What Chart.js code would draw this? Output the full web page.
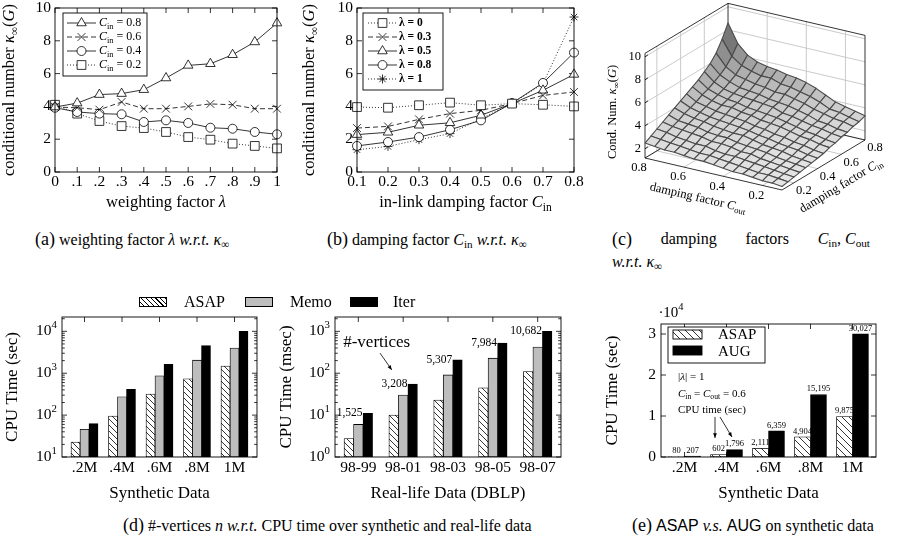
<!DOCTYPE html>
<html><head><meta charset="utf-8">
<script src="https://cdn.jsdelivr.net/npm/chart.js@4.4.1/dist/chart.umd.min.js"></script>
<style>
html,body{margin:0;padding:0;background:#fff;}
body{width:898px;height:544px;position:relative;overflow:hidden;font-family:'Liberation Serif','Times New Roman',Times,serif;}
canvas{position:absolute;}
.cap{position:absolute;font-family:'Liberation Serif','Times New Roman',Times,serif;font-size:16px;line-height:20px;white-space:nowrap;color:#000;}
.cap .lb{font-size:18px;}
.cap sub{font-size:70%;line-height:0;vertical-align:-0.3em;}
.sans{font-family:'Liberation Sans',Arial,sans-serif;}
.lg{position:absolute;font-family:'Liberation Serif','Times New Roman',Times,serif;font-size:16px;line-height:20px;white-space:nowrap;}
.sw{position:absolute;box-sizing:border-box;border:1px solid #000;}
</style></head><body>
<canvas id="ca" width="300" height="215" style="left:0;top:0"></canvas>
<canvas id="cb" width="300" height="215" style="left:300px;top:0"></canvas>
<canvas id="cc" width="298" height="225" style="left:600px;top:0"></canvas>
<canvas id="cd1" width="260" height="225" style="left:0;top:280px"></canvas>
<canvas id="cd2" width="310" height="225" style="left:260px;top:280px"></canvas>
<canvas id="ce" width="298" height="225" style="left:600px;top:280px"></canvas>

<div class="sw" style="left:139px;top:297px;width:28px;height:10px;background:repeating-linear-gradient(45deg,#fff 0 2.6px,#000 2.6px 3.4px)"></div>
<div class="lg" style="left:184px;top:292px">ASAP</div>
<div class="sw" style="left:245px;top:297px;width:28px;height:10px;background:#bdbdbd"></div>
<div class="lg" style="left:290px;top:292px">Memo</div>
<div class="sw" style="left:350px;top:297px;width:28px;height:10px;background:#000"></div>
<div class="lg" style="left:393px;top:292px">Iter</div>

<div class="cap" style="left:35px;top:229px"><span class="lb">(a)</span> weighting factor <i>λ</i> <i>w.r.t.</i> <i>κ</i><sub>∞</sub></div>
<div class="cap" style="left:327px;top:229px"><span class="lb">(b)</span> damping factor <i>C</i><sub>in</sub> <i>w.r.t.</i> <i>κ</i><sub>∞</sub></div>
<div class="cap" style="left:612px;top:229px;width:258px;display:flex;justify-content:space-between"><span class="lb">(c)</span><span>damping</span><span>factors</span><span><i>C</i><sub>in</sub>, <i>C</i><sub>out</sub></span></div>
<div class="cap" style="left:612px;top:252px"><i>w.r.t.</i> <i>κ</i><sub>∞</sub></div>
<div class="cap" style="left:123px;top:515px"><span class="lb">(d)</span> #-vertices <i>n</i> <i>w.r.t.</i> CPU time over synthetic and real-life data</div>
<div class="cap" style="left:632px;top:515px"><span class="lb">(e)</span> <span class="sans">ASAP</span> <i>v.s.</i> <span class="sans">AUG</span> on synthetic data</div>

<script>
// ================= DATA =================
// (a) kappa vs weighting factor lambda
const lambdaValues = [0, 0.1, 0.2, 0.3, 0.4, 0.5, 0.6, 0.7, 0.8, 0.9, 1];
const lambdaTickLabels = ['0', '.1', '.2', '.3', '.4', '.5', '.6', '.7', '.8', '.9', '1'];
const kappaTicks = [0, 2, 4, 6, 8, 10];
const kappaTickLabels = ['0', '2', '4', '6', '8', '10'];
const kappaA_Cin08 = [3.96, 4.2, 4.72, 4.78, 5.02, 5.73, 6.5, 6.6, 7.15, 7.93, 9.08];
const kappaA_Cin06 = [3.96, 3.92, 3.8, 4.27, 3.86, 3.86, 4.0, 4.15, 4.1, 3.86, 3.86];
const kappaA_Cin04 = [3.92, 3.66, 3.56, 3.52, 3.05, 3.15, 2.99, 2.7, 2.64, 2.44, 2.3];
const kappaA_Cin02 = [4.1, 3.56, 3.11, 2.8, 2.68, 2.44, 2.13, 1.97, 1.73, 1.59, 1.44];
// (b) kappa vs in-link damping factor Cin
const cinValues = [0.1, 0.2, 0.3, 0.4, 0.5, 0.6, 0.7, 0.8];
const cinTickLabels = ['0.1', '0.2', '0.3', '0.4', '0.5', '0.6', '0.7', '0.8'];
const kappaB_L0 = [3.96, 3.92, 4.07, 4.23, 4.07, 4.17, 4.1, 4.0];
const kappaB_L03 = [2.68, 2.78, 3.21, 3.56, 3.76, 4.17, 4.67, 4.88];
const kappaB_L05 = [2.28, 2.42, 2.85, 3.0, 3.46, 4.17, 4.98, 5.95];
const kappaB_L08 = [1.59, 1.83, 2.13, 2.58, 3.15, 4.2, 5.43, 7.28];
const kappaB_L1 = [1.36, 1.56, 1.97, 2.34, 3.25, 4.17, 5.39, 9.45];
// (c) surface kappa(Cout, Cin); rows = Cin, columns = Cout
const surfCout = [0.10, 0.15, 0.20, 0.25, 0.30, 0.35, 0.40, 0.45, 0.50, 0.55, 0.60, 0.65, 0.70, 0.75, 0.80];
const surfCin = [0.10, 0.15, 0.20, 0.25, 0.30, 0.35, 0.40, 0.45, 0.50, 0.55, 0.60, 0.65, 0.70, 0.75, 0.80];
const surfKappa = [
  [1.5, 1.6, 1.6, 1.7, 1.8, 1.8, 1.9, 2.0, 2.1, 2.1, 2.2, 2.3, 2.3, 2.4, 2.5],
  [1.6, 1.7, 1.8, 1.8, 1.9, 2.0, 2.1, 2.2, 2.3, 2.3, 2.4, 2.5, 2.6, 2.7, 2.8],
  [1.7, 1.8, 1.9, 2.0, 2.1, 2.2, 2.3, 2.3, 2.4, 2.6, 2.6, 2.7, 2.8, 3.0, 3.1],
  [1.8, 1.9, 2.0, 2.1, 2.2, 2.4, 2.4, 2.6, 2.7, 2.7, 2.9, 3.0, 3.1, 3.2, 3.4],
  [1.9, 2.0, 2.1, 2.2, 2.4, 2.5, 2.6, 2.7, 2.9, 2.9, 3.0, 3.2, 3.3, 3.4, 3.7],
  [2.0, 2.1, 2.2, 2.4, 2.5, 2.6, 2.8, 3.0, 3.0, 3.1, 3.2, 3.4, 3.5, 3.7, 4.0],
  [2.1, 2.2, 2.4, 2.5, 2.6, 2.8, 2.9, 3.1, 3.2, 3.3, 3.4, 3.5, 3.7, 3.9, 4.3],
  [2.2, 2.3, 2.5, 2.6, 2.8, 2.9, 3.1, 3.2, 3.4, 3.5, 3.6, 3.7, 3.9, 4.1, 4.6],
  [2.4, 2.5, 2.7, 2.8, 3.0, 3.2, 3.3, 3.4, 3.6, 3.7, 3.9, 3.9, 4.1, 4.4, 4.9],
  [2.5, 2.6, 2.8, 2.9, 3.1, 3.3, 3.5, 3.6, 3.7, 3.8, 4.0, 4.1, 4.3, 4.6, 5.2],
  [2.7, 2.8, 3.0, 3.1, 3.3, 3.5, 3.6, 3.9, 4.0, 4.1, 4.2, 4.3, 4.5, 4.9, 5.6],
  [2.8, 2.9, 3.1, 3.2, 3.5, 3.7, 3.9, 4.0, 4.1, 4.3, 4.4, 4.5, 4.8, 5.2, 6.0],
  [3.0, 3.2, 3.3, 3.5, 3.7, 4.0, 4.2, 4.4, 4.4, 4.6, 4.7, 4.9, 5.1, 5.6, 6.6],
  [3.1, 3.3, 3.5, 3.6, 4.0, 4.3, 4.5, 4.7, 4.8, 5.1, 5.1, 5.3, 5.6, 6.2, 7.5],
  [3.3, 3.5, 3.7, 3.9, 4.3, 4.7, 5.0, 5.2, 5.3, 5.5, 5.6, 5.8, 6.2, 7.0, 8.6]
];
const surfZTicks = [2, 4, 6, 8, 10];
const surfAxisTicks = [0.2, 0.4, 0.6, 0.8];
const surfAxisTickLabels = ['0.2', '0.4', '0.6', '0.8'];
// (d) CPU time, synthetic (sec) and DBLP (msec)
const synthCats = ['.2M', '.4M', '.6M', '.8M', '1M'];
const synthASAP = [22.7, 95, 318, 740, 1480];
const synthMemo = [46, 275, 870, 2050, 3970];
const synthIter = [63, 415, 1640, 4570, 10000];
const synthLogTicks = [10, 100, 1000, 10000];
const synthLogLabels = ['10~^:1', '10~^:2', '10~^:3', '10~^:4'];
const dblpCats = ['98-99', '98-01', '98-03', '98-05', '98-07'];
const dblpASAP = [2.75, 10, 23, 45, 110];
const dblpMemo = [6.0, 30, 91, 229, 420];
const dblpIter = [11, 55, 209, 525, 1000];
const dblpVertices = [1525, 3208, 5307, 7984, 10682];
const dblpLogTicks = [1, 10, 100, 1000];
const dblpLogLabels = ['10~^:0', '10~^:1', '10~^:2', '10~^:3'];
// (e) ASAP vs AUG (sec)
const augCats = ['.2M', '.4M', '.6M', '.8M', '1M'];
const augASAP = [80, 602, 2111, 4904, 9875];
const augAUG = [207, 1796, 6359, 15195, 30027];
const augTicks = [0, 10000, 20000, 30000];
const augTickLabels = ['0', '1', '2', '3'];

// ================= HELPERS =================
const SERIF = "'Liberation Serif','Times New Roman',Times,serif";
function rich(str, size) {
  return str.split('~').map(seg => {
    let t = seg, style = '', sz = size, dy = 0;
    while (t.length > 1 && t[1] === ':' && 'ib_^'.includes(t[0])) {
      const c = t[0]; t = t.slice(2);
      if (c === 'i') style = 'italic ';
      else if (c === 'b') style = 'bold ';
      else if (c === '_') { sz = size * 0.7; dy = size * 0.3; }
      else { sz = size * 0.7; dy = -size * 0.38; }
    }
    return { t, font: style + sz.toFixed(2) + 'px ' + SERIF, dy };
  });
}
function drawRich(ctx, str, size, x, y, align, rot) {
  const parts = rich(str, size);
  let w = 0;
  parts.forEach(p => { ctx.font = p.font; p.w = ctx.measureText(p.t).width; w += p.w; });
  ctx.save(); ctx.translate(x, y); if (rot) ctx.rotate(rot);
  let cx = align === 'center' ? -w / 2 : (align === 'right' ? -w : 0);
  ctx.textBaseline = 'middle'; ctx.textAlign = 'left'; ctx.fillStyle = '#000';
  parts.forEach(p => { ctx.font = p.font; ctx.fillText(p.t, cx, p.dy); cx += p.w; });
  ctx.restore();
}
function marker(ctx, style, r, x, y) {
  ctx.beginPath();
  const s = r * Math.SQRT1_2;
  if (style === 'circle') ctx.arc(x, y, r, 0, Math.PI * 2);
  else if (style === 'triangle') { ctx.moveTo(x, y - r); ctx.lineTo(x + 0.866 * r, y + 0.5 * r); ctx.lineTo(x - 0.866 * r, y + 0.5 * r); ctx.closePath(); }
  else if (style === 'rect') ctx.rect(x - s, y - s, 2 * s, 2 * s);
  else if (style === 'crossRot') { ctx.moveTo(x - s, y - s); ctx.lineTo(x + s, y + s); ctx.moveTo(x - s, y + s); ctx.lineTo(x + s, y - s); }
  else if (style === 'star') { ctx.moveTo(x, y - r); ctx.lineTo(x, y + r); ctx.moveTo(x - r, y); ctx.lineTo(x + r, y); ctx.moveTo(x - s, y - s); ctx.lineTo(x + s, y + s); ctx.moveTo(x - s, y + s); ctx.lineTo(x + s, y - s); }
  if (style === 'circle' || style === 'triangle' || style === 'rect') { ctx.fillStyle = '#fff'; ctx.fill(); }
  ctx.stroke();
}
function arrow(ctx, x1, y1, x2, y2) {
  ctx.beginPath(); ctx.moveTo(x1, y1); ctx.lineTo(x2, y2); ctx.stroke();
  const a = Math.atan2(y2 - y1, x2 - x1), h = 5;
  ctx.beginPath(); ctx.moveTo(x2, y2);
  ctx.lineTo(x2 - h * Math.cos(a - 0.38), y2 - h * Math.sin(a - 0.38));
  ctx.lineTo(x2 - h * Math.cos(a + 0.38), y2 - h * Math.sin(a + 0.38));
  ctx.closePath(); ctx.fillStyle = '#000'; ctx.fill();
}
function hatchFor(id, size) {
  const c = document.createElement('canvas'); c.width = size; c.height = size;
  const g = c.getContext('2d');
  g.fillStyle = '#fff'; g.fillRect(0, 0, size, size);
  g.strokeStyle = '#000'; g.lineWidth = 0.8; g.beginPath();
  g.moveTo(-1, -1); g.lineTo(size + 1, size + 1);
  g.moveTo(-1, size - 1); g.lineTo(1, size + 1);
  g.moveTo(size - 1, -1); g.lineTo(size + 1, 1);
  g.stroke();
  return document.getElementById(id).getContext('2d').createPattern(c, 'repeat');
}

// per-canvas axis decoration settings
const PGF = {};
const pgfPlugin = {
  id: 'pgf',
  beforeDatasetsDraw(chart) {
    const o = PGF[chart.canvas.id]; if (!o) return;
    const ctx = chart.ctx, a = chart.chartArea, sx = chart.scales.x, sy = chart.scales.y;
    const L = 5, m = 2.8;
    ctx.save(); ctx.strokeStyle = '#000'; ctx.lineWidth = 0.8; ctx.beginPath();
    o.xTicks.forEach(v => { const p = sx.getPixelForValue(v); ctx.moveTo(p, a.bottom); ctx.lineTo(p, a.bottom - L); ctx.moveTo(p, a.top); ctx.lineTo(p, a.top + L); });
    o.yTicks.forEach(v => { const p = sy.getPixelForValue(v); ctx.moveTo(a.left, p); ctx.lineTo(a.left + L, p); ctx.moveTo(a.right, p); ctx.lineTo(a.right - L, p); });
    if (o.logMinor) {
      o.yTicks.forEach(v => { for (let k = 2; k <= 9; k++) { const val = v * k; if (val > sy.max) continue; const p = sy.getPixelForValue(val); ctx.moveTo(a.left, p); ctx.lineTo(a.left + m, p); ctx.moveTo(a.right, p); ctx.lineTo(a.right - m, p); } });
    }
    ctx.stroke(); ctx.restore();
  },
  afterDatasetsDraw(chart) {
    const o = PGF[chart.canvas.id]; if (!o) return;
    const ctx = chart.ctx, a = chart.chartArea, sx = chart.scales.x, sy = chart.scales.y;
    ctx.save();
    ctx.strokeStyle = '#000'; ctx.lineWidth = 0.9;
    ctx.strokeRect(a.left, a.top, a.right - a.left, a.bottom - a.top);
    o.xLabels.forEach((t, i) => drawRich(ctx, t, o.fs, sx.getPixelForValue(o.xTicks[i]), a.bottom + o.xdy, 'center'));
    o.yLabels.forEach((t, i) => drawRich(ctx, t, o.fs, a.left - o.ydx, sy.getPixelForValue(o.yTicks[i]), 'right'));
    drawRich(ctx, o.xTitle, o.tfs, (a.left + a.right) / 2, a.bottom + o.xTitleDy, 'center');
    drawRich(ctx, o.yTitle, o.tfs, a.left - o.yTitleDx, (a.top + a.bottom) / 2, 'center', -Math.PI / 2);
    if (o.legend) {
      const g = o.legend;
      ctx.fillStyle = '#fff'; ctx.fillRect(g.box[0], g.box[1], g.box[2], g.box[3]);
      ctx.lineWidth = 0.9; ctx.strokeRect(g.box[0], g.box[1], g.box[2], g.box[3]);
      g.rows.forEach(r => {
        const ds = chart.data.datasets[r[0]];
        ctx.lineWidth = ds.borderWidth; ctx.strokeStyle = '#000';
        ctx.setLineDash(ds.borderDash || []);
        ctx.beginPath(); ctx.moveTo(g.x0, r[2]); ctx.lineTo(g.x1, r[2]); ctx.stroke();
        ctx.setLineDash([]);
        marker(ctx, ds.pointStyle, ds.pointRadius, (g.x0 + g.x1) / 2, r[2]);
        drawRich(ctx, r[1], g.fs, g.tx, r[2], 'left');
      });
    }
    if (o.extra) o.extra(chart, ctx, a);
    ctx.restore();
  }
};

const charts = [];
function lineDS(label, xs, ys, style, dash, r) {
  return { label, data: xs.map((x, i) => ({ x, y: ys[i] })), borderColor: '#000', borderWidth: 0.8, borderDash: dash,
    pointStyle: style, pointRadius: r, pointBorderWidth: 0.8, pointBackgroundColor: '#fff', pointBorderColor: '#000',
    pointHoverRadius: r, fill: false, tension: 0, clip: false };
}
function mkLine(id, datasets, xmin, xmax, pad) {
  charts.push(new Chart(document.getElementById(id), {
    type: 'line', data: { datasets },
    options: { responsive: false, animation: false, events: [], layout: { padding: pad },
      plugins: { legend: { display: false }, tooltip: { enabled: false } },
      scales: { x: { type: 'linear', min: xmin, max: xmax, display: false }, y: { type: 'linear', min: 0, max: 10, display: false } } },
    plugins: [pgfPlugin]
  }));
}
function barDS(label, ys, bg, thick) {
  return { label, data: ys.map((y, i) => ({ x: i, y })), backgroundColor: bg, borderColor: '#000', borderWidth: 0.8,
    borderSkipped: false, barThickness: thick, grouped: true };
}
function mkBar(id, datasets, yType, ymin, ymax, xmin, xmax, pad) {
  charts.push(new Chart(document.getElementById(id), {
    type: 'bar', data: { datasets },
    options: { responsive: false, animation: false, events: [], layout: { padding: pad },
      plugins: { legend: { display: false }, tooltip: { enabled: false } },
      scales: { x: { type: 'linear', min: xmin, max: xmax, offset: false, display: false },
                y: { type: yType, min: ymin, max: ymax, display: false } } },
    plugins: [pgfPlugin]
  }));
}

// ================= (a) =================
PGF.ca = {
  xTicks: lambdaValues, xLabels: lambdaTickLabels, yTicks: kappaTicks, yLabels: kappaTickLabels,
  fs: 15.5, xdy: 10, ydx: 4, tfs: 16.5,
  xTitle: 'weighting factor ~i:λ', xTitleDy: 31,
  yTitle: 'conditional number ~i:κ~_:∞~(~i:G~)', yTitleDx: 45,
  legend: { box: [63, 13, 84, 63], x0: 67, x1: 96, tx: 99, fs: 12,
    rows: [[0, 'i:C~_:in~ = 0.8', 23], [1, 'i:C~_:in~ = 0.6', 37], [2, 'i:C~_:in~ = 0.4', 51], [3, 'i:C~_:in~ = 0.2', 65]] }
};
mkLine('ca', [
  lineDS('Cin=0.8', lambdaValues, kappaA_Cin08, 'triangle', [], 5.5),
  lineDS('Cin=0.6', lambdaValues, kappaA_Cin06, 'crossRot', [5, 3], 5.5),
  lineDS('Cin=0.4', lambdaValues, kappaA_Cin04, 'circle', [], 4.5),
  lineDS('Cin=0.2', lambdaValues, kappaA_Cin02, 'rect', [1, 2], 6.2)
], 0, 1, { left: 55, top: 8, right: 23, bottom: 43 });

// ================= (b) =================
PGF.cb = {
  xTicks: cinValues, xLabels: cinTickLabels, yTicks: kappaTicks, yLabels: kappaTickLabels,
  fs: 15.5, xdy: 10, ydx: 4, tfs: 16.5,
  xTitle: 'in-link damping factor ~i:C~_:in', xTitleDy: 31,
  yTitle: 'conditional number ~i:κ~_:∞~(~i:G~)', yTitleDx: 47,
  legend: { box: [63, 13, 80, 77], x0: 68, x1: 97, tx: 99, fs: 11.5,
    rows: [[0, 'b:λ = 0', 23], [1, 'b:λ = 0.3', 37], [2, 'b:λ = 0.5', 51], [3, 'b:λ = 0.8', 65], [4, 'b:λ = 1', 79]] }
};
mkLine('cb', [
  lineDS('lambda=0', cinValues, kappaB_L0, 'rect', [1, 2], 6.2),
  lineDS('lambda=0.3', cinValues, kappaB_L03, 'crossRot', [5, 3], 5.5),
  lineDS('lambda=0.5', cinValues, kappaB_L05, 'triangle', [], 5.5),
  lineDS('lambda=0.8', cinValues, kappaB_L08, 'circle', [], 4.5),
  lineDS('lambda=1', cinValues, kappaB_L1, 'star', [1, 2], 4.5)
], 0.1, 0.8, { left: 57, top: 8, right: 26, bottom: 43 });

// ================= (c) 3D surface =================
const PROJ = { ox: 45, oy: 158, cx: 195.7, cy: 45.7, ix: 118.6, iy: 71.4, zs: 11.5, zmin: 1.2, zmax: 10.3 };
function proj(cout, cin, z) {
  return [PROJ.ox + (0.8 - cout) * PROJ.cx + (cin - 0.1) * PROJ.ix,
          PROJ.oy + (0.8 - cout) * PROJ.cy - (cin - 0.1) * PROJ.iy - (z - PROJ.zmin) * PROJ.zs];
}
const allZ = surfKappa.flat();
const zLo = Math.min(...allZ), zHi = Math.max(...allZ);
function gray(z) {
  const t = Math.max(0, Math.min(1, (z - zLo) / (zHi - zLo)));
  const g = Math.round(228 - 150 * Math.pow(t, 1.6));
  return 'rgb(' + g + ',' + g + ',' + g + ')';
}
const surfPoints = [];
surfCin.forEach((ci, i) => surfCout.forEach((co, j) => { const q = proj(co, ci, surfKappa[i][j]); surfPoints.push({ x: q[0], y: q[1] }); }));

const surfPlugin = {
  id: 'surf3d',
  afterDatasetsDraw(chart) {
    const ctx = chart.ctx, sx = chart.scales.x, sy = chart.scales.y;
    const P = (co, ci, z) => { const q = proj(co, ci, z); return [sx.getPixelForValue(q[0]), sy.getPixelForValue(q[1])]; };
    const seg = (p, q) => { ctx.moveTo(p[0], p[1]); ctx.lineTo(q[0], q[1]); };
    const Z0 = PROJ.zmin, Z1 = PROJ.zmax;
    ctx.save();
    ctx.globalAlpha = 1;
    ctx.setLineDash([]);
    ctx.lineCap = 'butt';
    // back walls & floor grid
    ctx.strokeStyle = '#c4c4c4'; ctx.lineWidth = 0.9; ctx.beginPath();
    surfZTicks.forEach(z => { seg(P(0.8, 0.1, z), P(0.8, 0.8, z)); seg(P(0.8, 0.8, z), P(0.1, 0.8, z)); });
    surfAxisTicks.forEach(c => {
      if (c < 0.8) { seg(P(0.8, c, Z0), P(0.8, c, Z1)); seg(P(c, 0.8, Z0), P(c, 0.8, Z1)); }
      seg(P(c, 0.1, Z0), P(c, 0.8, Z0)); seg(P(0.1, c, Z0), P(0.8, c, Z0));
    });
    ctx.stroke();
    // back box edges
    ctx.strokeStyle = '#000'; ctx.lineWidth = 0.8; ctx.beginPath();
    seg(P(0.8, 0.1, Z0), P(0.8, 0.1, Z1)); seg(P(0.8, 0.1, Z1), P(0.8, 0.8, Z1));
    seg(P(0.8, 0.8, Z1), P(0.1, 0.8, Z1)); seg(P(0.1, 0.8, Z1), P(0.1, 0.8, Z0));
    seg(P(0.8, 0.8, Z0), P(0.8, 0.8, Z1)); seg(P(0.8, 0.1, Z0), P(0.8, 0.8, Z0)); seg(P(0.8, 0.8, Z0), P(0.1, 0.8, Z0));
    ctx.stroke();
    // surface facets, back to front (vertices from the dataset elements)
    const pts = chart.getDatasetMeta(0).data, n = surfCout.length, quads = [];
    for (let i = 0; i < n - 1; i++) for (let j = 0; j < n - 1; j++) {
      const zc = (surfKappa[i][j] + surfKappa[i][j + 1] + surfKappa[i + 1][j + 1] + surfKappa[i + 1][j]) / 4;
      const d = proj((surfCout[j] + surfCout[j + 1]) / 2, (surfCin[i] + surfCin[i + 1]) / 2, Z0)[1];
      quads.push({ k: [i * n + j, i * n + j + 1, (i + 1) * n + j + 1, (i + 1) * n + j], zc, d });
    }
    quads.sort((p, q) => p.d - q.d);
    ctx.lineJoin = 'round';
    quads.forEach(q => {
      const v = q.k.map(idx => { const e = pts[idx]; return [e.x, e.y]; });
      ctx.beginPath();
      ctx.moveTo(v[0][0], v[0][1]); ctx.lineTo(v[1][0], v[1][1]); ctx.lineTo(v[2][0], v[2][1]); ctx.lineTo(v[3][0], v[3][1]);
      ctx.closePath();
      ctx.fillStyle = gray(q.zc); ctx.fill();
      ctx.beginPath();
      ctx.moveTo(v[0][0], v[0][1]); ctx.lineTo(v[1][0], v[1][1]); ctx.lineTo(v[2][0], v[2][1]); ctx.lineTo(v[3][0], v[3][1]);
      ctx.closePath();
      ctx.strokeStyle = '#4a4a4a'; ctx.lineWidth = 1.1; ctx.stroke();
    });
    // front axes
    ctx.strokeStyle = '#000'; ctx.lineWidth = 0.8; ctx.beginPath();
    seg(P(0.8, 0.1, Z0), P(0.1, 0.1, Z0)); seg(P(0.1, 0.1, Z0), P(0.1, 0.8, Z0));
    surfZTicks.forEach(z => { const p = P(0.8, 0.1, z); ctx.moveTo(p[0], p[1]); ctx.lineTo(p[0] + 3, p[1] - 2); });
    ctx.stroke();
    // tick labels
    surfZTicks.forEach(z => { const p = P(0.8, 0.1, z); drawRich(ctx, String(z), 12.5, p[0] - 4, p[1], 'right'); });
    surfAxisTicks.forEach((c, i) => {
      const p = P(c, 0.1, Z0); drawRich(ctx, surfAxisTickLabels[i], 12.5, p[0] - 6, p[1] + 10, 'center');
      const q = P(0.1, c, Z0); drawRich(ctx, surfAxisTickLabels[i], 12.5, q[0] + 10, q[1] + 8, 'center');
    });
    // titles
    drawRich(ctx, 'Cond. Num. ~i:κ~_:∞~(~i:G~)', 12.5, 13, 112, 'center', -Math.PI / 2);
    drawRich(ctx, 'damping factor ~i:C~_:out', 12.5, 98, 198, 'center', Math.atan2(PROJ.cy, PROJ.cx));
    drawRich(ctx, 'damping factor ~i:C~_:in', 12.5, 241, 186, 'center', -Math.atan2(PROJ.iy, PROJ.ix));
    ctx.restore();
  }
};
charts.push(new Chart(document.getElementById('cc'), {
  type: 'scatter',
  data: { datasets: [{ label: 'kappa', data: surfPoints, pointRadius: 0, pointHoverRadius: 0, showLine: false }] },
  options: { responsive: false, animation: false, events: [], layout: { padding: 0 },
    plugins: { legend: { display: false }, tooltip: { enabled: false } },
    scales: { x: { type: 'linear', min: 0, max: 298, display: false }, y: { type: 'linear', min: 0, max: 225, reverse: true, display: false } } },
  plugins: [surfPlugin]
}));

// ================= (d) =================
PGF.cd1 = {
  xTicks: [0, 1, 2, 3, 4], xLabels: synthCats, yTicks: synthLogTicks, yLabels: synthLogLabels, logMinor: true,
  fs: 15.5, xdy: 11, ydx: 5, tfs: 17,
  xTitle: 'Synthetic Data', xTitleDy: 37, yTitle: 'CPU Time (sec)', yTitleDx: 49
};
mkBar('cd1', [
  barDS('ASAP', synthASAP, hatchFor('cd1', 6), 9),
  barDS('Memo', synthMemo, '#bdbdbd', 9),
  barDS('Iter', synthIter, '#000', 9)
], 'logarithmic', 10, 22000, -0.6, 4.6, { left: 62, top: 37, right: 3, bottom: 48 });

PGF.cd2 = {
  xTicks: [0, 1, 2, 3, 4], xLabels: dblpCats, yTicks: dblpLogTicks, yLabels: dblpLogLabels, logMinor: true,
  fs: 15.5, xdy: 11, ydx: 5, tfs: 17,
  xTitle: 'Real-life Data (DBLP)', xTitleDy: 37, yTitle: 'CPU Time (msec)', yTitleDx: 48,
  extra(chart, ctx, a) {
    const meta = chart.getDatasetMeta(2), sx = chart.scales.x, sy = chart.scales.y;
    meta.data.forEach((el, i) => drawRich(ctx, dblpVertices[i].toLocaleString('en-US'), 11.5, el.x - el.width / 2 - 0.5, el.y, 'right'));
    drawRich(ctx, '#-vertices', 17, sx.getPixelForValue(0.41), sy.getPixelForValue(552), 'center');
    ctx.strokeStyle = '#000'; ctx.lineWidth = 0.8;
    arrow(ctx, sx.getPixelForValue(0.484), sy.getPixelForValue(303), sx.getPixelForValue(0.746), sy.getPixelForValue(120));
  }
};
mkBar('cd2', [
  barDS('ASAP', dblpASAP, hatchFor('cd2', 6), 9.5),
  barDS('Memo', dblpMemo, '#bdbdbd', 9.5),
  barDS('Iter', dblpIter, '#000', 9.5)
], 'logarithmic', 1, 2200, -0.52, 4.52, { left: 75, top: 37, right: 9, bottom: 48 });

// ================= (e) =================
const hatchE = hatchFor('ce', 7);
PGF.ce = {
  xTicks: [0, 1, 2, 3, 4], xLabels: augCats, yTicks: augTicks, yLabels: augTickLabels,
  fs: 15.5, xdy: 11, ydx: 5, tfs: 17,
  xTitle: 'Synthetic Data', xTitleDy: 37, yTitle: 'CPU Time (sec)', yTitleDx: 48,
  extra(chart, ctx, a) {
    const sx = chart.scales.x, sy = chart.scales.y;
    [0, 1].forEach(d => chart.getDatasetMeta(d).data.forEach((el, i) => {
      const v = chart.data.datasets[d].data[i].y;
      drawRich(ctx, v.toLocaleString('en-US'), 8.5, el.x, el.y - 5.5, 'center');
    }));
    drawRich(ctx, '·10~^:4', 15, a.left + 10, a.top - 11, 'center');
    // legend
    const bx = a.left + 7, by = a.top + 3;
    ctx.fillStyle = '#fff'; ctx.fillRect(bx, by, 97, 36);
    ctx.strokeStyle = '#000'; ctx.lineWidth = 0.9; ctx.strokeRect(bx, by, 97, 36);
    ctx.fillStyle = hatchE; ctx.fillRect(bx + 5, by + 3, 29, 9); ctx.strokeRect(bx + 5, by + 3, 29, 9);
    ctx.fillStyle = '#000'; ctx.fillRect(bx + 5, by + 19, 29, 9); ctx.strokeRect(bx + 5, by + 19, 29, 9);
    drawRich(ctx, 'ASAP', 15, bx + 50, by + 8, 'left');
    drawRich(ctx, 'AUG', 15, bx + 50, by + 25, 'left');
    // annotation
    const tx = sx.getPixelForValue(-0.155);
    drawRich(ctx, '|~i:λ~| = 1', 11, tx, sy.getPixelForValue(19500), 'left');
    drawRich(ctx, 'i:C~_:in~ = ~i:C~_:out~ = 0.6', 11, tx, sy.getPixelForValue(15400), 'left');
    drawRich(ctx, 'CPU time (sec)', 11, tx, sy.getPixelForValue(11500), 'left');
    ctx.lineWidth = 0.8;
    arrow(ctx, sx.getPixelForValue(0.726), sy.getPixelForValue(9760), sx.getPixelForValue(0.726), sy.getPixelForValue(4630));
    arrow(ctx, sx.getPixelForValue(0.845), sy.getPixelForValue(9760), sx.getPixelForValue(1.13), sy.getPixelForValue(4880));
  }
};
mkBar('ce', [
  barDS('ASAP', augASAP, hatchE, 16),
  barDS('AUG', augAUG, '#000', 16)
], 'linear', 0, 32440, -0.56, 4.56, { left: 61, top: 44, right: 22, bottom: 48 });

// make sure the serif faces are loaded before final canvas text is drawn
const redraw = () => charts.forEach(c => c.draw());
if (document.fonts && document.fonts.load) {
  Promise.all(['16px "Liberation Serif"', 'italic 16px "Liberation Serif"', 'bold 16px "Liberation Serif"']
    .map(f => document.fonts.load(f))).then(redraw, redraw);
  document.fonts.ready.then(redraw);
}
</script>
</body></html>
